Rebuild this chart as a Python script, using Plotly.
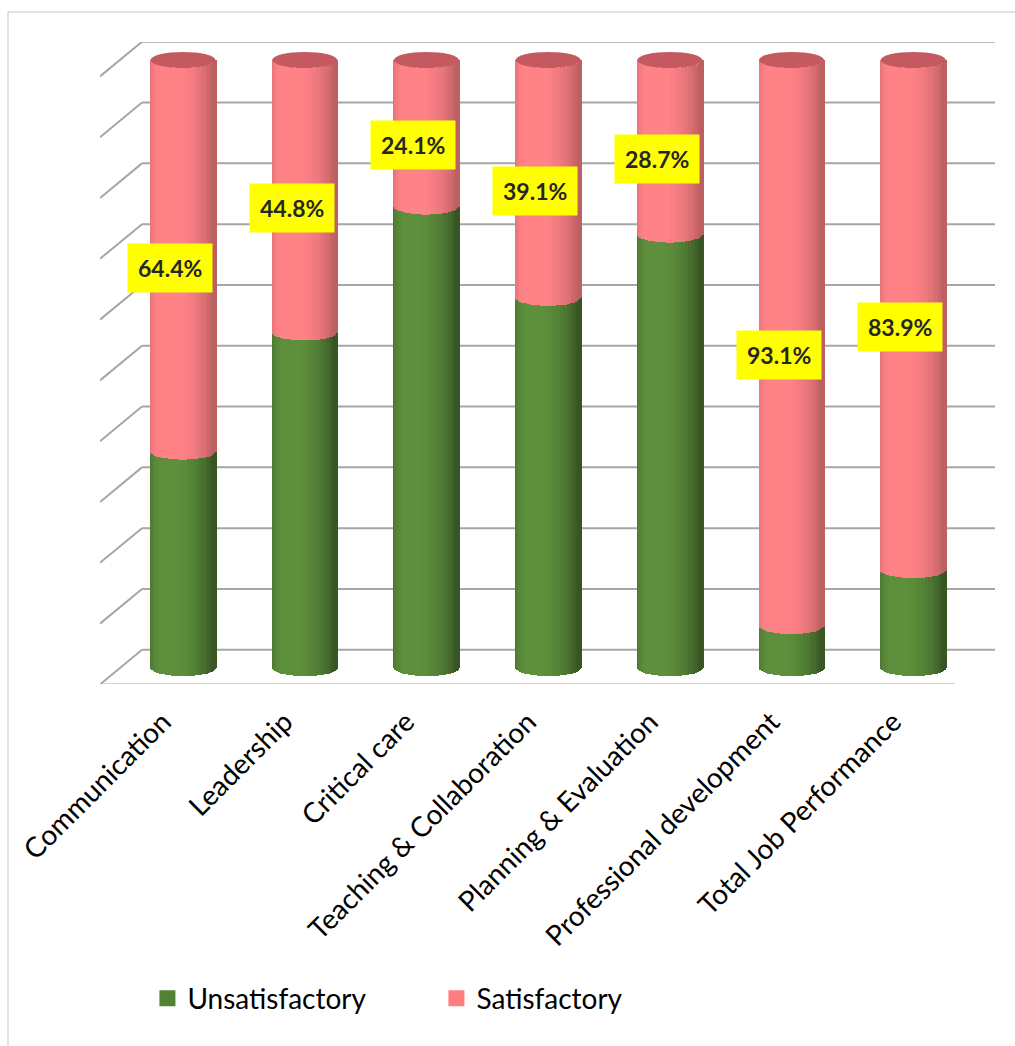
import numpy as np
import plotly.graph_objects as go

# ---------------- data ----------------
categories = ["Communication", "Leadership", "Critical care", "Teaching & Collaboration",
              "Planning & Evaluation", "Professional development", "Total Job Performance"]
unsatisfactory = [35.6, 55.2, 75.9, 60.9, 71.3, 6.9, 16.1]
satisfactory = [64.4, 44.8, 24.1, 39.1, 28.7, 93.1, 83.9]
series_names = ["Unsatisfactory", "Satisfactory"]
grid_ticks = [0, 10, 20, 30, 40, 50, 60, 70, 80, 90, 100]

# ---------------- style ----------------
FONT = "Lato"
GREEN = (93, 143, 60)
PINK = (255, 130, 135)
CAP = "#C45A5F"
GRID = "#A6A6A6"

pos = list(range(len(categories)))
W = 0.534          # cylinder width (axis units)
B = 1.32           # ellipse half height (y units)
XR = [-0.682, 6.672]
YR = [-2.63, 102.96]
FRONT, BACK = -2.7, 3.0      # depth offsets of the 3D walls (y units)
XF, XB = -0.682, -0.337      # front/back x of left wall
XEND_BACK, XEND_FRONT = 6.672, 6.343

fig = go.Figure()

# strips to emulate cylinder shading and elliptic bottoms
N = 26
th = np.linspace(-np.pi / 2, np.pi / 2, N + 1)
light = -0.45


def shade(rgb, th_mid, amb, dif):
    f = amb + dif * max(0.0, np.cos(th_mid - light))
    f = min(f, 1.0)
    return "rgb(%d,%d,%d)" % tuple(int(round(c * f)) for c in rgb)


for k in range(N):
    ul, ur = np.sin(th[k]), np.sin(th[k + 1])
    tm = 0.5 * (th[k] + th[k + 1])
    dm = B * np.cos(tm)
    dmin = B * min(np.cos(th[k]), np.cos(th[k + 1]))
    off = ul * W / 2
    wid = (ur - ul) * W / 2 + 0.006
    fig.add_trace(go.Bar(
        x=pos, y=unsatisfactory, base=[-dm] * len(pos),
        offset=off, width=wid, marker=dict(color=shade(GREEN, tm, 0.6, 0.42), line=dict(width=0)),
        showlegend=False, hoverinfo="skip"))
    fig.add_trace(go.Bar(
        x=pos, y=[s + dm - dmin for s in satisfactory],
        base=[u - dm for u in unsatisfactory],
        offset=off, width=wid, marker=dict(color=shade(PINK, tm, 0.74, 0.28), line=dict(width=0)),
        showlegend=False, hoverinfo="skip"))

# legend entries
for name, col in zip(series_names, ["rgb(84,130,53)", "rgb(255,124,128)"]):
    fig.add_trace(go.Scatter(x=[None], y=[None], mode="markers", name=name,
                             marker=dict(symbol="square", size=16, color=col)))

shapes = []
# 3D walls / grid
for t in grid_ticks:
    shapes.append(dict(type="line", xref="x", yref="y", x0=XF, y0=t + FRONT, x1=XB, y1=t + BACK,
                       line=dict(color=GRID, width=2), layer="below"))
    shapes.append(dict(type="line", xref="x", yref="y", x0=XB, y0=t + BACK, x1=XEND_BACK, y1=t + BACK,
                       line=dict(color=GRID, width=2), layer="below"))
shapes.append(dict(type="line", xref="x", yref="y", x0=XF, y0=grid_ticks[0] + FRONT,
                   x1=XEND_FRONT, y1=grid_ticks[0] + FRONT, line=dict(color=GRID, width=2), layer="below"))
# top caps
for p, u, s in zip(pos, unsatisfactory, satisfactory):
    top = u + s
    shapes.append(dict(type="circle", xref="x", yref="y", x0=p - W / 2, x1=p + W / 2,
                       y0=top - B, y1=top + B, fillcolor=CAP, line=dict(width=0), layer="above"))
# outer frame
shapes.append(dict(type="rect", xref="paper", yref="paper", x0=-0.1028, x1=1.03, y0=-0.6, y1=1.0467,
                   line=dict(color="#D9D9D9", width=1.5), fillcolor="rgba(0,0,0,0)", layer="below"))

annotations = []
for p, u, s in zip(pos, unsatisfactory, satisfactory):
    annotations.append(dict(x=p, y=u + s / 2, xref="x", yref="y", text="<b>%.1f%%</b>" % s,
                            showarrow=False, bgcolor="#FFFF00", borderpad=10, xshift=-13, yshift=-12,
                            font=dict(family=FONT, size=23, color="#262626")))

fig.update_layout(
    width=1015, height=1046,
    margin=dict(l=100, r=20, t=42, b=362),
    paper_bgcolor="white", plot_bgcolor="white",
    barmode="overlay", bargap=0,
    shapes=shapes, annotations=annotations,
    xaxis=dict(range=XR, tickvals=pos, ticktext=categories, tickangle=-45,
               tickfont=dict(family=FONT, size=28, color="#000000"),
               ticklabelshift=-20, ticklabelstandoff=15,
               showgrid=False, zeroline=False, showline=False, ticks=""),
    yaxis=dict(range=YR, showgrid=False, zeroline=False, showline=False, showticklabels=False),
    legend=dict(orientation="h", x=0.053, y=-0.49, xanchor="left", yanchor="middle",
                font=dict(family=FONT, size=28, color="#000000"),
                entrywidth=244, entrywidthmode="pixels", bgcolor="rgba(0,0,0,0)"),
    showlegend=True,
)

fig.write_html("out.html")
